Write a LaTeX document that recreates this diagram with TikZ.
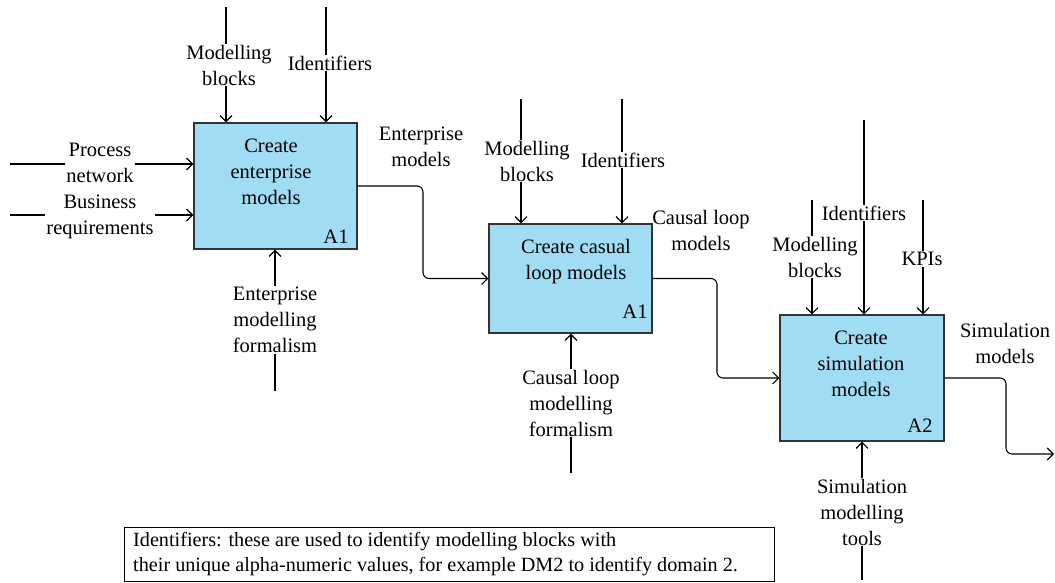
\documentclass[tikz,border=0pt]{standalone}
\usepackage{fontspec}
\setmainfont{Liberation Serif}
\usetikzlibrary{arrows.meta}
\definecolor{boxblue}{RGB}{160,220,243}
\begin{document}
\begin{tikzpicture}[x=1pt,y=-1pt,
  font=\fontsize{20.5}{26}\selectfont,
  proc/.style={draw=black!80, line width=1.4pt, fill=boxblue, inner sep=0pt},
  lab/.style={fill=white, inner sep=1pt, align=center},
  olab/.style={inner sep=1pt, align=center},
  txt/.style={inner sep=0pt, align=center},
  conn/.style={line width=1.1pt},
  arr/.style={conn, -{Straight Barb[length=6pt,width=12pt]}},
  flow/.style={arr, rounded corners=6pt}]
\useasboundingbox (0,0) rectangle (1055,583);

% process boxes
\node[proc, minimum width=163pt, minimum height=126pt] (b1) at (275.5,186) {};
\node[proc, minimum width=163pt, minimum height=109pt] (b2) at (570.5,278.5) {};
\node[proc, minimum width=164pt, minimum height=126pt] (b3) at (862,378) {};

\node[txt] (t1) at (271,172) {Create\\enterprise\\models};
\node[txt] (a1) at (336,237) {A1};
\node[txt] (t2) at (576,262) {Create casual\\loop models};
\node[txt] (a2) at (635,312) {A1};
\node[txt] (t3) at (861,364) {Create\\simulation\\models};
\node[txt] (a3) at (920,426) {A2};

% free ends
\coordinate (mb1) at (226,7);
\coordinate (id1) at (326,7);
\coordinate (pn1) at (10,164);
\coordinate (br1) at (10,215);
\coordinate (em1) at (275,391);
\coordinate (mb2) at (521,99);
\coordinate (id2) at (622,99);
\coordinate (cl2) at (571,473);
\coordinate (mb3) at (812,200);
\coordinate (id3) at (864,120);
\coordinate (kp3) at (923,200);
\coordinate (sm3) at (862,580);
\coordinate (j1) at (423,230);
\coordinate (j2) at (717,330);
\coordinate (j3) at (1006,420);
\coordinate (out3) at (1054,454);

% connectors
\draw[arr] (mb1) -- (mb1 |- b1.north);
\draw[arr] (id1) -- (id1 |- b1.north);
\draw[arr] (pn1) -- (pn1 -| b1.west);
\draw[arr] (br1) -- (br1 -| b1.west);
\draw[arr] (em1) -- (em1 |- b1.south);
\draw[flow] (b1.east) -| (j1) |- (b2.west);

\draw[arr] (mb2) -- (mb2 |- b2.north);
\draw[arr] (id2) -- (id2 |- b2.north);
\draw[arr] (cl2) -- (cl2 |- b2.south);
\draw[flow] (b2.east) -| (j2) |- (b3.west);

\draw[arr] (mb3) -- (mb3 |- b3.north);
\draw[arr] (id3) -- (id3 |- b3.north);
\draw[arr] (kp3) -- (kp3 |- b3.north);
\draw[arr] (sm3) -- (sm3 |- b3.south);
\draw[flow] (b3.east) -| (j3) |- (out3);

% labels
\node[lab] (lmb1) at (229,65) {Modelling\\blocks};
\node[lab] (lid1) at (330,63) {Identifiers};
\node[lab] (lpn1) at (100,163) {Process\\network};
\node[lab] (lbr1) at (100,217) {Business\\requirements};
\node[lab] (lem1) at (275,320) {Enterprise\\modelling\\formalism};
\node[olab] (lout1) at (421,147) {Enterprise\\models};

\node[lab] (lmb2) at (527,161) {Modelling\\blocks};
\node[lab] (lid2) at (623,160) {Identifiers};
\node[lab] (lcl2) at (571,403) {Causal loop\\modelling\\formalism};
\node[olab] (lout2) at (701,230) {Causal loop\\models};

\node[lab] (lmb3) at (815,257) {Modelling\\blocks};
\node[lab] (lid3) at (864,213) {Identifiers};
\node[lab] (lkp3) at (922,259) {KPIs};
\node[lab] (lsm3) at (862,512) {Simulation\\modelling\\tools};
\node[olab] (lout3) at (1005,343) {Simulation\\models};

% note
\node[draw, line width=1.1pt, minimum width=650pt, minimum height=54pt, anchor=north west, inner sep=0pt] (note) at (124,527) {};
\node[anchor=west, align=left, inner sep=0pt, font=\fontsize{20.2}{25.5}\selectfont] (notetxt) at (133,554) {Identifiers: these are used to identify modelling blocks with\\their unique alpha-numeric values, for example DM2 to identify domain 2.};
\end{tikzpicture}
\end{document}
